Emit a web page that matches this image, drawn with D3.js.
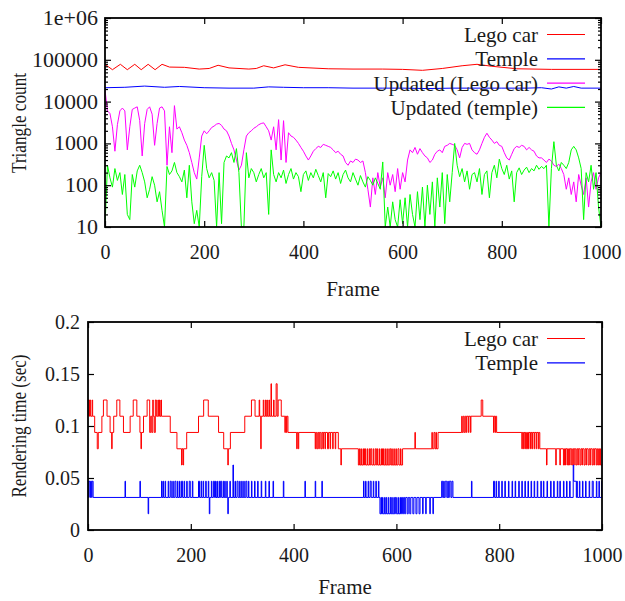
<!DOCTYPE html>
<html>
<head>
<meta charset="utf-8">
<script src="https://cdn.jsdelivr.net/npm/d3@7"></script>
<style>
  body { margin: 0; background: #fff; }
  svg text { font-family: "Liberation Serif", serif; fill: #1a1a1a; }
</style>
</head>
<body>
<script>
// ---- top panel: triangle count per frame (log scale) ----

// smooth totals at its turning points
const legoFrames = [0, 15, 31, 45, 60, 73, 87, 101, 115, 130, 160, 190, 210, 228, 250, 290, 305, 320, 340, 363, 390, 450, 500, 560, 600, 640, 680, 720, 750, 780, 830, 900, 1000];
const legoTris = [78000, 58000, 78000, 58000, 78000, 58000, 78000, 58000, 78000, 67000, 66000, 60000, 62000, 74000, 64000, 60000, 62000, 72000, 64000, 76000, 66000, 61000, 60000, 60000, 59000, 56000, 62000, 72000, 78000, 70000, 61000, 59000, 59000];

const templeFrames = [0, 40, 80, 120, 150, 200, 250, 300, 330, 360, 400, 450, 500, 560, 600, 650, 700, 750, 800, 850, 880, 900, 915, 930, 945, 960, 1000];
const templeTris = [21500, 22000, 23500, 22000, 23000, 21500, 21000, 21000, 22500, 22000, 21500, 21500, 21000, 21000, 21000, 20500, 21000, 21000, 21000, 21000, 21500, 20000, 22500, 21000, 23000, 21000, 21000];

// updated triangles, one reading every 5 frames (0..1000)
const sampleFrames = d3.range(0, 1001, 5);
const updatedLego = [
  19000, 6000, 5200, 2500, 650, 2800, 6000, 7000, 6000, 700,
  2500, 6500, 7000, 7500, 3500, 500, 3000, 6500, 7500, 5000,
  900, 3000, 7000, 7500, 6000, 300, 2500, 600, 8000, 2200,
  2500, 1800, 1200, 900, 600, 350, 200, 140, 450, 1500,
  2000, 1700, 2000, 2400, 2600, 2900, 3000, 2700, 2200, 2000,
  1500, 1000, 700, 400, 230, 300, 700, 1500, 1800, 2000,
  2300, 2500, 2800, 3000, 3100, 2500, 2000, 1200, 2500, 700,
  3700, 400, 3500, 350, 1800, 1500, 1400, 1200, 1000, 800,
  650, 500, 400, 500, 650, 750, 850, 800, 950, 900,
  850, 800, 700, 600, 650, 550, 500, 350, 300, 380,
  350, 420, 400, 350, 380, 200, 80, 30, 150, 60,
  200, 90, 150, 50, 200, 100, 180, 70, 250, 80,
  200, 120, 400, 700, 600, 800, 550, 750, 600, 500,
  450, 350, 400, 550, 650, 700, 600, 850, 900, 1000,
  950, 900, 700, 450, 800, 1000, 950, 1000, 700, 600,
  550, 700, 1000, 1400, 1750, 1400, 1200, 1000, 1100, 900,
  850, 600, 450, 400, 550, 750, 850, 800, 900, 850,
  700, 800, 700, 650, 500, 450, 450, 400, 350, 420,
  380, 300, 280, 320, 250, 180, 80, 150, 60, 120,
  40, 180, 100, 60, 150, 30, 120, 200, 80, 150,
  200
];
const updatedTemple = [
  10, 300, 150, 90, 250, 130, 200, 60, 180, 20,
  15, 180, 90, 220, 300, 200, 120, 50, 80, 160,
  100, 40, 70, 25, 10, 280, 180, 220, 350, 200,
  160, 120, 230, 50, 300, 40, 12, 25, 10, 160,
  900, 250, 150, 200, 130, 10, 200, 12, 350, 500,
  450, 600, 350, 750, 200, 10, 10, 600, 150, 250,
  200, 120, 180, 250, 150, 200, 20, 700, 180, 120,
  200, 150, 230, 110, 180, 250, 140, 200, 160, 70,
  180, 220, 130, 200, 150, 240, 170, 120, 200, 50,
  190, 160, 220, 140, 200, 110, 180, 230, 150, 120,
  200, 140, 100, 170, 120, 90, 160, 130, 100, 150,
  110, 80, 360, 10, 30, 10, 40, 15, 10, 45,
  12, 50, 10, 60, 20, 10, 70, 15, 90, 10,
  100, 20, 120, 10, 150, 30, 200, 12, 180, 40,
  200, 1000, 300, 160, 250, 120, 220, 80, 180, 200,
  120, 250, 60, 180, 220, 50, 200, 300, 150, 420,
  250, 180, 300, 140, 220, 40, 200, 260, 180, 230,
  270, 200, 250, 220, 300, 240, 280, 250, 300, 10,
  250, 1100, 300, 220, 350, 300, 250, 350, 700, 850,
  700, 450, 250, 15, 200, 120, 300, 80, 200, 30,
  10
];

const topLegend = ["Lego car", "Temple", "Updated (Lego car)", "Updated (temple)"];
const topTickVals = [10, 100, 1000, 10000, 100000, 1000000];
const topTickLabels = ["10", "100", "1000", "10000", "100000", "1e+06"];

// ---- bottom panel: rendering time, [frame, seconds] where the value changes ----
const legoTime = [[0,.125],[2,.1094],[3,.125],[5,.1094],[8,.125],[9,.1094],[13,.0938],[18,.0781],[20,.0938],[27,.1094],[30,.125],[37,.1094],[43,.0938],[46,.0781],[47,.0938],[50,.1094],[56,.125],[62,.1094],[69,.0938],[82,.1094],[88,.125],[95,.1094],[101,.0938],[103,.0781],[104,.0938],[108,.1094],[115,.125],[120,.0938],[122,.1094],[124,.0938],[126,.125],[127,.1094],[129,.0938],[131,.125],[133,.1094],[136,.125],[137,.1094],[139,.125],[140,.1094],[142,.125],[143,.1094],[160,.0938],[173,.0781],[182,.0625],[183,.0781],[185,.0625],[186,.0781],[192,.0938],[215,.1094],[225,.125],[234,.1094],[254,.0938],[264,.0781],[272,.0625],[273,.0781],[277,.0938],[305,.1094],[318,.125],[325,.1094],[333,.125],[334,.1094],[336,.0781],[337,.1094],[341,.125],[342,.1094],[345,.125],[346,.1094],[348,.125],[349,.1094],[352,.125],[353,.1094],[356,.1406],[357,.1094],[361,.125],[362,.1094],[366,.1406],[368,.1094],[370,.125],[376,.1094],[383,.0938],[384,.1094],[386,.0938],[387,.1094],[389,.0938],[406,.0781],[407,.0938],[409,.0781],[410,.0938],[442,.0781],[443,.0938],[445,.0781],[447,.0938],[449,.0781],[450,.0938],[453,.0781],[455,.0938],[457,.0781],[458,.0938],[461,.0781],[462,.0938],[466,.0781],[468,.0938],[471,.0781],[472,.0938],[476,.0781],[477,.0938],[481,.0781],[482,.0938],[487,.0781],[492,.0625],[493,.0781],[526,.0625],[528,.0781],[529,.0625],[531,.0781],[532,.0625],[535,.0781],[536,.0625],[538,.0781],[540,.0625],[543,.0781],[544,.0625],[547,.0781],[548,.0625],[550,.0781],[552,.0625],[555,.0781],[556,.0625],[559,.0781],[561,.0625],[563,.0781],[564,.0625],[567,.0781],[568,.0625],[571,.0781],[573,.0625],[575,.0781],[576,.0625],[579,.0781],[580,.0625],[583,.0781],[584,.0625],[587,.0781],[589,.0625],[591,.0781],[592,.0625],[595,.0781],[596,.0625],[599,.0781],[600,.0625],[603,.0781],[605,.0625],[608,.0781],[609,.0625],[612,.0781],[636,.0938],[637,.0781],[669,.0938],[670,.0781],[673,.0938],[675,.0781],[677,.0938],[678,.0781],[681,.0938],[727,.1094],[728,.0938],[730,.1094],[732,.0938],[734,.1094],[736,.0938],[737,.1094],[740,.0938],[741,.1094],[744,.0938],[745,.1094],[765,.125],[768,.1094],[789,.0938],[790,.1094],[792,.0938],[793,.1094],[795,.0938],[844,.0781],[845,.0938],[847,.0781],[848,.0938],[850,.0781],[851,.0938],[853,.0781],[855,.0938],[857,.0781],[858,.0938],[861,.0781],[862,.0938],[864,.0781],[865,.0938],[868,.0781],[869,.0938],[872,.0781],[873,.0938],[876,.0781],[877,.0938],[879,.0781],[892,.0625],[893,.0781],[910,.0625],[911,.0781],[918,.0625],[919,.0781],[925,.0625],[927,.0781],[929,.0625],[930,.0781],[933,.0625],[935,.0781],[937,.0625],[938,.0781],[941,.0625],[943,.0781],[945,.0625],[946,.0781],[949,.0625],[951,.0781],[953,.0625],[954,.0781],[957,.0625],[959,.0781],[961,.0625],[962,.0781],[965,.0625],[967,.0781],[969,.0625],[970,.0781],[973,.0625],[975,.0781],[977,.0625],[978,.0781],[981,.0625],[983,.0781],[985,.0625],[986,.0781],[989,.0625],[991,.0781],[993,.0625],[995,.0781],[997,.0625],[1000,.0625]];

const templeTime = [[0,.0469],[1,.0313],[2,.0469],[4,.0313],[5,.0469],[7,.0313],[8,.0469],[10,.0313],[72,.0469],[73,.0313],[101,.0469],[102,.0313],[117,.0156],[118,.0313],[143,.0469],[144,.0313],[146,.0469],[147,.0313],[150,.0469],[151,.0313],[156,.0469],[157,.0313],[160,.0469],[162,.0313],[165,.0469],[166,.0313],[169,.0469],[171,.0313],[174,.0469],[175,.0313],[178,.0469],[179,.0313],[182,.0469],[184,.0313],[187,.0469],[188,.0313],[192,.0469],[193,.0313],[197,.0469],[199,.0313],[203,.0469],[204,.0313],[215,.0469],[217,.0313],[220,.0469],[221,.0313],[224,.0469],[225,.0313],[229,.0469],[230,.0313],[234,.0469],[235,.0313],[236,.0156],[237,.0313],[240,.0469],[241,.0313],[244,.0469],[246,.0313],[248,.0469],[249,.0313],[251,.0469],[252,.0313],[255,.0469],[256,.0313],[258,.0469],[260,.0313],[263,.0469],[264,.0313],[266,.0469],[267,.0313],[270,.0469],[271,.0313],[272,.0156],[273,.0313],[276,.0469],[277,.0313],[282,.0625],[283,.0313],[286,.0469],[287,.0313],[290,.0469],[292,.0313],[295,.0469],[296,.0313],[299,.0469],[300,.0313],[303,.0469],[304,.0313],[307,.0469],[309,.0313],[312,.0469],[313,.0313],[318,.0469],[319,.0313],[324,.0469],[325,.0313],[330,.0469],[331,.0313],[337,.0469],[338,.0313],[345,.0469],[346,.0313],[352,.0469],[353,.0313],[360,.0469],[361,.0313],[380,.0469],[381,.0313],[422,.0469],[423,.0313],[442,.0469],[443,.0313],[455,.0469],[456,.0313],[536,.0469],[537,.0313],[540,.0469],[541,.0313],[545,.0469],[546,.0313],[549,.0469],[551,.0313],[555,.0469],[556,.0313],[560,.0469],[561,.0313],[565,.0469],[566,.0313],[568,.0156],[570,.0313],[571,.0156],[573,.0313],[574,.0156],[577,.0313],[578,.0156],[580,.0313],[581,.0156],[584,.0313],[585,.0156],[588,.0313],[589,.0156],[591,.0313],[592,.0156],[595,.0313],[596,.0156],[598,.0313],[600,.0156],[603,.0313],[604,.0156],[607,.0313],[608,.0156],[610,.0313],[612,.0156],[614,.0313],[616,.0156],[618,.0313],[621,.0156],[623,.0313],[626,.0156],[628,.0313],[632,.0156],[634,.0313],[638,.0156],[640,.0313],[644,.0156],[646,.0313],[651,.0156],[652,.0313],[657,.0156],[658,.0313],[665,.0156],[666,.0313],[671,.0156],[672,.0313],[688,.0469],[690,.0313],[692,.0469],[693,.0313],[695,.0469],[698,.0313],[700,.0469],[701,.0313],[703,.0469],[706,.0313],[708,.0469],[710,.0313],[746,.0469],[747,.0313],[789,.0469],[791,.0313],[794,.0469],[795,.0313],[799,.0469],[800,.0313],[805,.0469],[806,.0313],[811,.0469],[812,.0313],[818,.0469],[819,.0313],[825,.0469],[826,.0313],[831,.0469],[832,.0313],[838,.0469],[839,.0313],[844,.0469],[845,.0313],[850,.0469],[851,.0313],[856,.0469],[857,.0313],[862,.0469],[863,.0313],[868,.0469],[869,.0313],[874,.0469],[875,.0313],[881,.0469],[882,.0313],[886,.0469],[887,.0313],[893,.0469],[894,.0313],[900,.0469],[901,.0313],[906,.0469],[907,.0313],[913,.0469],[914,.0313],[918,.0469],[919,.0313],[925,.0469],[926,.0313],[931,.0469],[932,.0313],[937,.0469],[938,.0313],[944,.0625],[945,.0469],[950,.0313],[951,.0469],[952,.0313],[956,.0469],[957,.0313],[962,.0469],[963,.0313],[968,.0469],[969,.0313],[975,.0469],[976,.0313],[981,.0469],[983,.0313],[989,.0469],[990,.0313],[994,.0469],[995,.0313],[999,.0469],[1000,.0469]];

const bottomLegend = ["Lego car", "Temple"];
const timeTicks = [0, 0.05, 0.1, 0.15, 0.2];
const frameTicks = [0, 200, 400, 600, 800, 1000];

const colors = ["#ff0000", "#0000ff", "#ff00ff", "#00ff00"];

const svg = d3.select("body").append("svg")
  .attr("width", 625)
  .attr("height", 601);

const topBox = {left: 105, right: 601, top: 18, bottom: 227};
const botBox = {left: 88, right: 602, top: 322, bottom: 530};

const xTop = d3.scaleLinear().domain([0, 1000]).range([topBox.left, topBox.right]);
const yTop = d3.scaleLog().domain([10, 1e6]).range([topBox.bottom, topBox.top]);
const xBot = d3.scaleLinear().domain([0, 1000]).range([botBox.left, botBox.right]);
const yBot = d3.scaleLinear().domain([0, 0.2]).range([botBox.bottom, botBox.top]);

// clip so nothing spills outside the frame
function addClip(id, b) {
  svg.append("clipPath").attr("id", id)
    .append("rect")
    .attr("x", b.left).attr("y", b.top)
    .attr("width", b.right - b.left).attr("height", b.bottom - b.top);
}
addClip("clipTop", topBox);
addClip("clipBot", botBox);

// axes: ticks point inward on all four sides, labels only left/bottom
function drawAxes(x, y, b, yTicks, yFmt, minor, yPad) {
  const g = svg.append("g").attr("class", "axes");
  g.append("g")
    .attr("transform", `translate(0,${b.bottom})`)
    .call(d3.axisBottom(x).tickValues(frameTicks).tickSize(-6).tickPadding(18).tickFormat(d3.format("d")));
  g.append("g")
    .attr("transform", `translate(0,${b.top})`)
    .call(d3.axisTop(x).tickValues(frameTicks).tickSize(-6).tickFormat(""));
  const left = g.append("g")
    .attr("class", "yleft")
    .attr("transform", `translate(${b.left},0)`)
    .call(d3.axisLeft(y).tickValues(yTicks).tickSize(-6).tickPadding(yPad).tickFormat(yFmt));
  g.append("g")
    .attr("transform", `translate(${b.right},0)`)
    .call(d3.axisRight(y).tickValues(yTicks).tickSize(-6).tickFormat(""));
  if (minor) {
    g.append("g")
      .attr("transform", `translate(${b.left},0)`)
      .call(d3.axisLeft(y).tickValues(minor).tickSize(-3).tickFormat(""));
    g.append("g")
      .attr("transform", `translate(${b.right},0)`)
      .call(d3.axisRight(y).tickValues(minor).tickSize(-3).tickFormat(""));
  }
  g.selectAll(".domain").remove();
  g.selectAll(".tick line").attr("stroke", "#000").attr("stroke-width", 1.2);
  g.selectAll("text").attr("font-size", 20).attr("fill", "#1a1a1a")
    .style("font-family", "'Liberation Serif', serif");
  return left;
}

function drawFrame(b) {
  svg.append("rect")
    .attr("x", b.left).attr("y", b.top)
    .attr("width", b.right - b.left).attr("height", b.bottom - b.top)
    .attr("fill", "none").attr("stroke", "#000").attr("stroke-width", 1.8);
}

function drawLegend(names, firstY) {
  const textRight = 538, lineX0 = 547, lineX1 = 585;
  const g = svg.append("g");
  names.forEach((name, i) => {
    const ly = firstY + i * 24.3;
    g.append("text")
      .attr("x", textRight).attr("y", ly + 7.5)
      .attr("text-anchor", "end")
      .attr("font-size", 21)
      .text(name);
    g.append("line")
      .attr("x1", lineX0).attr("x2", lineX1)
      .attr("y1", ly).attr("y2", ly)
      .attr("stroke", colors[i]).attr("stroke-width", 1.2);
  });
}

// ---------- top panel ----------
const minorLog = [];
[10, 100, 1000, 10000, 100000].forEach(p => {
  for (let k = 2; k <= 9; k++) minorLog.push(p * k);
});

const topSeries = [
  legoFrames.map((f, i) => [f, legoTris[i]]),
  templeFrames.map((f, i) => [f, templeTris[i]]),
  sampleFrames.map((f, i) => [f, updatedLego[i]]),
  sampleFrames.map((f, i) => [f, updatedTemple[i]])
];

const lineTop = d3.line()
  .x(d => xTop(d[0]))
  .y(d => yTop(Math.max(10, d[1])));

const plotTop = svg.append("g").attr("clip-path", "url(#clipTop)");
topSeries.forEach((s, i) => {
  plotTop.append("path")
    .datum(s)
    .attr("d", lineTop)
    .attr("fill", "none")
    .attr("stroke", colors[i])
    .attr("stroke-width", 1)
    .attr("stroke-linejoin", "round");
});

const topLeft = drawAxes(xTop, yTop, topBox, topTickVals,
  d => topTickLabels[topTickVals.indexOf(d)], minorLog, 7);
drawFrame(topBox);
drawLegend(topLegend, 34.5);

// the y tick labels of this panel are set a little wider
topLeft.selectAll("text").each(function () {
  const w = this.getComputedTextLength();
  d3.select(this).attr("textLength", w * 1.1).attr("lengthAdjust", "spacingAndGlyphs");
});

svg.append("text")
  .attr("x", (topBox.left + topBox.right) / 2)
  .attr("y", 296)
  .attr("text-anchor", "middle")
  .attr("font-size", 21)
  .text("Frame");

svg.append("text")
  .attr("transform", `translate(26,${(topBox.top + topBox.bottom) / 2 + 0.5}) rotate(-90)`)
  .attr("text-anchor", "middle")
  .attr("font-size", 21)
  .attr("textLength", 100)
  .attr("lengthAdjust", "spacingAndGlyphs")
  .text("Triangle count");

// ---------- bottom panel ----------
const lineBot = d3.line()
  .x(d => xBot(d[0]))
  .y(d => yBot(d[1]))
  .curve(d3.curveStepAfter);

const plotBot = svg.append("g").attr("clip-path", "url(#clipBot)");
[legoTime, templeTime].forEach((s, i) => {
  plotBot.append("path")
    .datum(s)
    .attr("d", lineBot)
    .attr("fill", "none")
    .attr("stroke", colors[i])
    .attr("stroke-width", 1);
});

drawAxes(xBot, yBot, botBox, timeTicks, d3.format("~g"), null, 8);
drawFrame(botBox);
drawLegend(bottomLegend, 338.5);

svg.append("text")
  .attr("x", (botBox.left + botBox.right) / 2)
  .attr("y", 594)
  .attr("text-anchor", "middle")
  .attr("font-size", 21)
  .text("Frame");

svg.append("text")
  .attr("transform", `translate(26,${(botBox.top + botBox.bottom) / 2}) rotate(-90)`)
  .attr("text-anchor", "middle")
  .attr("font-size", 21)
  .attr("textLength", 143)
  .attr("lengthAdjust", "spacingAndGlyphs")
  .text("Rendering time (sec)");
</script>
</body>
</html>
